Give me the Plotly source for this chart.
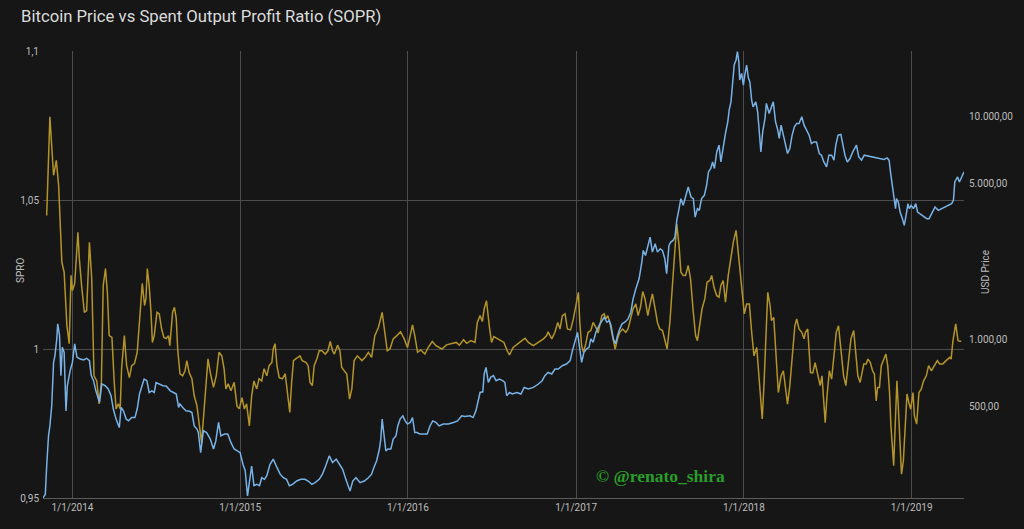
import math
import pandas as pd
import plotly.graph_objects as go

base = pd.Timestamp("2014-01-01")

# SOPR series: day offset from 2014-01-01 and ratio value
sopr_day = [-56,-49,-41,-35,-30,-23,-18,-12,-7,-3,
            0,5,12,15,20,26,31,37,42,47,
            53,58,63,67,72,76,80,86,91,95,
            100,104,107,113,118,124,129,135,141,147,
            152,157,160,163,167,171,174,178,184,189,
            194,199,204,209,212,218,222,226,229,234,
            240,245,249,254,260,265,271,
            281,289,295,300,307,313,319,325,330,334,
            339,345,352,358,363,369,374,379,385,390,
            395,401,406,412,417,423,428,434,437,441,
            445,450,457,463,468,473,477,481,486,492,
            495,500,508,513,517,522,526,532,537,543,
            550,556,561,566,570,577,582,586,592,597,
            603,608,613,
            620,630,637,644,651,658,666,674,680,685,
            691,698,706,714,722,729,735,740,745,751,
            758,767,774,783,791,804,814,825,835,842,
            851,858,867,876,881,887,892,896,901,907,
            912,917,923,930,939,946,951,
            959,970,978,985,992,1003,1014,1025,1032,1035,
            1043,1050,1056,1061,1066,1072,1077,1084,1090,1097,
            1101,1104,1108,1112,1117,1122,1128,1133,1139,1144,
            1152,1157,1161,1165,1170,1175,1181,1186,1191,1197,
            1204,1209,1215,1220,1226,1231,1236,1241,1246,1252,
            1257,1262,1268,1273,1278,
            1284,1294,1300,1306,1311,1315,1320,1324,1329,1334,
            1340,1345,1351,1356,1360,1365,1370,1376,1381,1387,
            1391,1396,1402,1407,1411,1416,1421,1427,1432,1438,
            1444,1449,1454,1458,1462,1467,1473,1478,1483,1489,
            1494,1498,1501,1505,1509,1513,1518,1521,1526,1531,
            1536,1542,1547,1552,1556,1561,1566,1572,1576,1581,
            1587,1592,1595,1600,
            1606,1611,1616,1622,1627,1631,1635,1638,1642,1647,
            1652,1657,1662,1667,1672,1678,1683,1689,1694,1700,
            1705,1709,1714,1718,1722,1727,1731,1736,1741,1745,
            1749,1752,1756,1760,1765,1770,1774,1778,1781,1787,
            1790,1794,1797,1801,1804,1808,1812,1816,1820,1824,
            1829,1832,1837,1842,1847,1852,1858,1863,1869,1876,
            1882,1887,1894,1901,1909,1912,1916,1922,1927,1934]

sopr_val = [1.0448,1.0779,1.0583,1.0633,1.0549,1.0291,1.0258,1.0078,1.0018,1.0247,
            1.0196,1.0220,1.0392,1.0304,1.0213,1.0123,1.0129,1.0358,1.0236,0.9910,
            0.9893,0.9816,0.9888,1.0213,1.0270,1.0190,1.0045,1.0039,0.9888,0.9799,
            0.9816,0.9799,0.9934,1.0045,0.9944,0.9904,0.9944,0.9951,0.9989,1.0136,
            1.0220,1.0146,1.0169,1.0270,1.0213,1.0123,1.0022,1.0045,1.0123,1.0118,
            1.0068,1.0039,1.0035,1.0045,1.0011,1.0123,1.0140,1.0102,1.0001,0.9917,
            0.9910,0.9927,0.9961,0.9921,0.9900,0.9843,0.9809,
            0.9686,0.9854,0.9967,0.9921,0.9871,0.9910,0.9989,0.9977,0.9934,0.9866,
            0.9883,0.9860,0.9888,0.9809,0.9799,0.9837,0.9799,0.9816,0.9742,0.9843,
            0.9893,0.9866,0.9900,0.9893,0.9934,0.9910,0.9944,0.9955,1.0001,1.0018,
            0.9944,0.9904,0.9900,0.9917,0.9854,0.9787,0.9888,0.9961,0.9967,0.9972,
            0.9977,0.9961,0.9955,0.9944,0.9888,0.9877,0.9944,0.9967,0.9994,0.9994,
            0.9983,0.9994,1.0025,0.9994,0.9983,1.0013,0.9994,0.9938,0.9927,0.9916,
            0.9832,0.9866,0.9961,
            0.9977,0.9961,0.9972,0.9989,0.9972,1.0045,1.0073,1.0123,1.0056,0.9994,
            1.0000,1.0034,1.0045,1.0058,1.0034,1.0005,1.0045,1.0081,1.0045,0.9989,
            0.9997,0.9983,1.0005,1.0025,1.0011,1.0000,1.0014,1.0019,1.0022,1.0013,
            1.0031,1.0019,1.0028,1.0022,1.0089,1.0112,1.0092,1.0135,1.0162,1.0078,
            1.0022,1.0042,1.0036,1.0031,1.0022,0.9994,0.9980,
            1.0005,1.0020,1.0028,1.0036,1.0022,1.0011,1.0022,1.0034,1.0045,1.0058,
            1.0034,1.0056,1.0089,1.0067,1.0112,1.0118,1.0067,1.0064,1.0101,1.0151,
            1.0190,1.0089,1.0011,0.9989,1.0017,1.0056,1.0062,1.0089,1.0073,1.0054,
            1.0112,1.0118,1.0101,1.0112,1.0084,1.0045,1.0000,1.0034,1.0056,1.0067,
            1.0056,1.0067,1.0101,1.0135,1.0151,1.0112,1.0140,1.0193,1.0168,1.0112,
            1.0151,1.0185,1.0135,1.0089,1.0067,
            1.0062,1.0000,1.0089,1.0224,1.0347,1.0420,1.0347,1.0258,1.0247,1.0247,
            1.0280,1.0235,1.0123,1.0045,1.0028,1.0089,1.0135,1.0168,1.0224,1.0230,
            1.0247,1.0207,1.0179,1.0174,1.0213,1.0230,1.0157,1.0247,1.0297,1.0358,
            1.0398,1.0325,1.0235,1.0179,1.0118,1.0151,1.0151,1.0056,0.9977,1.0005,
            0.9899,0.9809,0.9765,0.9888,1.0034,1.0190,1.0146,1.0095,1.0106,0.9989,
            0.9854,0.9910,0.9927,0.9865,0.9815,0.9877,0.9966,1.0078,1.0101,1.0067,
            1.0056,1.0034,1.0056,1.0067,
            0.9921,0.9920,0.9954,0.9910,0.9877,0.9910,0.9809,0.9753,0.9843,0.9927,
            0.9899,0.9977,1.0056,1.0078,1.0011,0.9910,0.9877,0.9955,1.0034,1.0062,
            0.9989,0.9910,0.9888,0.9916,0.9950,0.9950,0.9966,0.9955,0.9927,0.9916,
            0.9826,0.9871,0.9871,0.9944,0.9961,0.9983,0.9944,0.9854,0.9742,0.9608,
            0.9731,0.9893,0.9809,0.9686,0.9580,0.9624,0.9731,0.9849,0.9820,0.9798,
            0.9854,0.9776,0.9748,0.9854,0.9865,0.9893,0.9910,0.9944,0.9927,0.9944,
            0.9961,0.9950,0.9950,0.9961,0.9972,0.9966,1.0028,1.0084,1.0028,1.0025]

# Price series: day offset from 2014-01-01 and USD price
price_day = [-64,-59,-56,-52,-49,-45,-41,-38,-34,-32,
             -28,-25,-22,-18,-14,-11,-5,0,5,10,
             17,24,31,37,41,46,51,55,59,64,
             71,78,84,89,95,102,106,111,117,122,
             129,136,141,146,151,156,162,167,173,178,
             182,189,197,204,213,220,226,231,234,240,
             247,255,260,265,271,
             274,279,285,292,300,307,312,318,323,331,
             338,345,352,360,365,371,376,381,385,390,
             395,401,407,412,418,423,430,437,445,452,
             459,466,472,479,488,497,506,513,521,528,
             537,544,551,559,566,574,581,588,595,600,
             604,
             610,617,626,635,644,651,656,662,668,671,
             674,678,682,687,693,698,704,708,713,719,
             724,729,735,740,745,750,756,764,772,778,
             784,791,798,807,818,829,838,847,854,865,
             872,878,883,887,893,896,900,905,910,916,
             922,929,936,941,945,951,957,967,976,983,
             992,
             1003,1014,1022,1028,1035,1043,1050,1057,1066,1075,
             1083,1088,1094,1099,1103,1108,1113,1119,1124,1128,
             1133,1139,1146,1152,1157,1163,1168,1172,1177,1182,
             1186,1191,1196,1202,1209,1215,1220,1226,1230,1233,
             1239,1242,1247,1252,1257,1262,1268,1273,1279,1284,
             1289,1293,1298,1302,1307,1311,
             1315,1320,1324,1329,1334,1340,1346,1351,1355,1360,
             1364,1369,1375,1380,1384,1389,1393,1397,1402,1407,
             1411,1416,1421,1426,1429,1433,1437,1440,1444,1447,
             1450,1452,1456,1460,1463,1467,1471,1474,1478,1481,
             1487,1491,1494,1498,1502,1507,1510,1516,1520,1525,
             1530,1534,1538,1542,1547,1552,1556,1561,1566,1571,
             1576,1581,1587,1592,1598,1603,
             1608,1613,1619,1625,1630,1635,1641,1646,1652,1657,
             1661,1666,1672,1676,1681,1686,1692,1698,1703,1706,
             1711,1717,1723,1729,1737,1744,1751,1759,1766,1773,
             1777,1780,1785,1788,1791,1793,1797,1801,1806,1810,
             1814,1818,1821,1825,1830,1835,1839,1844,1851,1859,
             1864,1870,1877,1884,1891,1899,1906,1913,1917,1920,
             1926,1930,1935,1940]

price_val = [196,203,272,371,411,506,791,848,1007,1176,
             1042,690,924,877,480,622,726,791,957,833,
             819,812,825,805,690,655,590,561,524,633,
             622,601,561,489,441,404,497,480,441,433,
             448,448,489,571,622,666,655,580,590,580,
             643,633,622,620,590,580,571,497,515,497,
             480,478,472,411,398,
             384,312,391,384,359,324,352,426,371,378,
             378,346,324,318,312,277,259,200,229,272,
             222,225,222,241,237,246,277,292,268,250,
             241,237,222,225,233,237,237,233,225,229,
             237,250,272,302,282,292,277,263,237,222,
             210,
             233,241,229,233,241,250,268,287,324,359,
             441,371,318,324,324,359,371,411,441,456,
             433,419,426,448,384,384,378,378,378,411,
             433,426,411,419,419,426,433,456,453,456,
             448,480,542,580,584,702,751,643,678,690,
             655,666,655,643,561,580,571,580,571,611,
             601,
             611,633,655,690,713,702,739,739,764,778,
             805,893,1007,1078,940,791,877,909,924,1007,
             972,1078,1155,1217,1259,1196,1217,1155,1007,957,
             1042,1117,1176,1196,1238,1326,1522,1688,1807,1872,
             2222,2506,2380,2640,2876,2463,2687,2463,2551,2500,
             2301,1971,2640,2731,2780,2876,
             3417,3856,4274,3990,4346,4819,4346,4274,3535,3856,
             3788,4274,4423,4904,5627,5829,6237,5829,6918,7413,
             6237,7283,8363,9428,10640,11590,15010,16930,17830,19430,
             17520,14500,15540,13770,15270,16930,14760,14250,11800,11010,
             11590,10450,8807,6918,8504,9766,11400,10280,10830,11590,
             9428,8807,7943,9114,8218,7283,6804,7163,8218,8954,
             9275,9275,9930,9114,8654,8218,
             7542,7669,7669,6804,6686,6237,5925,6686,6686,6349,
             7413,8218,8278,7413,6686,6237,6461,6918,7163,7413,
             6569,6349,6686,6650,6600,6569,6500,6450,6400,6500,
             6349,5627,4576,4274,3856,4274,4128,3723,3478,3245,
             3598,4060,3856,3990,3856,4060,3723,3662,3598,3478,
             3478,3662,3920,3788,3856,3920,3990,4060,4201,5074,
             5343,5074,5343,5627]

year_ticks = ["2014-01-01", "2015-01-01", "2016-01-01", "2017-01-01", "2018-01-01", "2019-01-01"]
year_labels = ["1/1/2014", "1/1/2015", "1/1/2016", "1/1/2017", "1/1/2018", "1/1/2019"]
sopr_ticks = [0.95, 1.0, 1.05, 1.1]
sopr_labels = ["0,95", "1", "1,05", "1,1"]
price_ticks = [500, 1000, 5000, 10000]
price_labels = ["500,00", "1.000,00", "5.000,00", "10.000,00"]
sopr_range = [0.95, 1.1]
price_range = [195.6, 19560]

sopr_dates = base + pd.to_timedelta(sopr_day, unit="D")
price_dates = base + pd.to_timedelta(price_day, unit="D")

BG = "#161616"
GRID = "#4c4c4c"
TICK = "#bcbcbc"

fig = go.Figure()
fig.add_trace(go.Scatter(
    x=price_dates, y=price_val, yaxis="y2", mode="lines",
    line=dict(color="#78b2e6", width=1.5), name="USD Price", showlegend=False,
))
fig.add_trace(go.Scatter(
    x=sopr_dates, y=sopr_val, yaxis="y", mode="lines",
    line=dict(color="#b3942a", width=1.5), name="SOPR", showlegend=False,
))

fig.update_layout(
    width=1024, height=529,
    paper_bgcolor=BG, plot_bgcolor=BG,
    font=dict(family="Roboto", color=TICK, size=10),
    margin=dict(l=43, r=60, t=51, b=31, autoexpand=False),
    title=dict(
        text="Bitcoin Price vs Spent Output Profit Ratio (SOPR)",
        x=21 / 1024, xref="container", xanchor="left",
        y=1 - 16 / 529, yref="container", yanchor="middle",
        font=dict(family="Roboto", size=16.7, color="#dcdcdc"),
    ),
    xaxis=dict(
        range=[price_dates[0], price_dates[-1]],
        tickvals=year_ticks, ticktext=year_labels,
        showgrid=True, gridcolor=GRID, gridwidth=1,
        showline=True, linecolor="#5c5c5c", linewidth=1,
        zeroline=False, ticks="", tickfont=dict(size=10, color=TICK),
    ),
    yaxis=dict(
        range=sopr_range, tickvals=sopr_ticks, ticktext=sopr_labels,
        showgrid=True, gridcolor=GRID, gridwidth=1,
        zeroline=False, showline=False, ticks="",
        ticklabelstandoff=3,
        tickfont=dict(size=10, color=TICK),
    ),
    yaxis2=dict(
        overlaying="y", side="right", type="log",
        range=[math.log10(price_range[0]), math.log10(price_range[1])],
        tickvals=price_ticks, ticktext=price_labels,
        showgrid=False, zeroline=False, showline=False, ticks="",
        ticklabelstandoff=4,
        tickfont=dict(size=10, color=TICK),
    ),
    annotations=[
        dict(text="SPRO", xref="paper", yref="paper", x=(20 - 43) / 921, y=(497 - 270) / 447,
             textangle=-90, showarrow=False, font=dict(size=10, color=TICK),
             xanchor="center", yanchor="middle"),
        dict(text="USD Price", xref="paper", yref="paper", x=(985 - 43) / 921, y=(497 - 271) / 447,
             textangle=-90, showarrow=False, font=dict(size=10, color=TICK),
             xanchor="center", yanchor="middle"),
        dict(text="<b>© @renato_shira</b>", xref="paper", yref="paper", x=(660 - 43) / 921, y=(497 - 475) / 447,
             showarrow=False, font=dict(family="Liberation Serif", size=17.5, color="#2a9e2a"),
             xanchor="center", yanchor="middle"),
    ],
)

fig.write_html(
    "out.html",
    config={"displayModeBar": False},
    post_script="document.body.style.margin='0';document.body.style.background='" + BG + "';",
)
